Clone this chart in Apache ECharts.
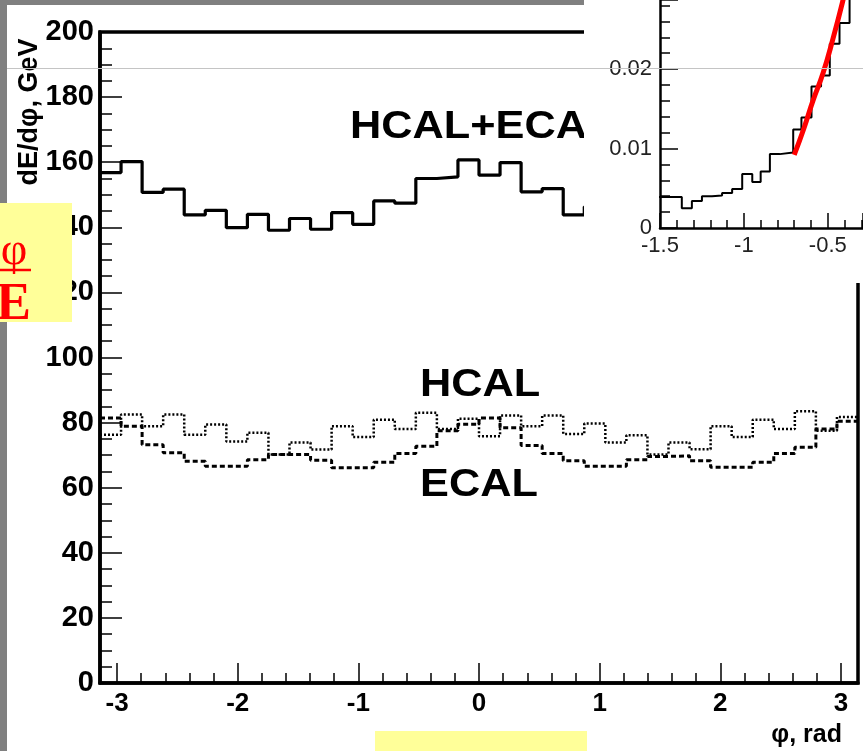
<!DOCTYPE html>
<html><head><meta charset="utf-8">
<script src="https://cdn.jsdelivr.net/npm/echarts@6/dist/echarts.min.js"></script>
<style>html,body{margin:0;padding:0;background:#fff}#c{width:863px;height:751px}</style>
</head><body><div id="c"></div>
<script>
// ---- main histogram data (36 bins over -pi..pi) ----
const phiBins = 36;
const hcalEcal = [156.8,160.2,150.7,151.7,143.8,145.2,139.9,144.0,139.1,142.7,139.4,144.5,140.9,148.1,147.4,155.0,155.5,160.7,
                  156.0,159.9,150.9,151.9,143.8,146.3,140.5,144.7,139.8,143.5,140.1,145.2,141.9,148.7,148.5,155.9,155.9,162.1];
const hcal = [76.3,82.5,78.9,82.5,76.3,79.4,74.2,76.9,70.2,73.9,71.7,78.9,75.6,80.9,78.0,83.0,78.0,81.2,
              75.8,82.2,78.9,82.2,76.5,79.7,73.9,76.1,70.2,73.9,71.8,78.9,75.6,80.9,78.0,83.5,77.5,81.7];
const ecal = [81.4,78.9,73.2,70.7,68.1,66.6,66.6,68.6,70.2,70.2,68.4,66.1,66.1,67.8,70.5,72.7,77.5,79.5,
              81.4,78.4,73.0,70.5,68.3,66.6,66.6,68.6,69.6,69.8,68.3,66.3,66.3,67.8,70.5,72.4,78.0,80.4];
const xTickLabels = [-3,-2,-1,0,1,2,3];
const seriesLabels = ['HCAL+ECAL','HCAL','ECAL'];

// ---- inset data ----
const insetEdges = [-1.57,-1.37,-1.31,-1.25,-1.19,-1.13,-1.07,-1.01,-0.95,-0.90,-0.845,-0.786,-0.706,-0.657,-0.597,-0.54,-0.488,-0.43,-0.37,-0.31,-0.25];
const insetValues = [0.0039,0.0025,0.0034,0.0040,0.0041,0.0044,0.0049,0.0068,0.0058,0.0071,0.0093,0.0095,0.0124,0.0139,0.0178,0.0192,0.0232,0.0258,0.031,0.036];
const fitX = [-0.70,-0.643,-0.587,-0.528,-0.468,-0.409,-0.35];
const fitY = [0.0092,0.0125,0.0161,0.0195,0.0239,0.0287,0.034];

const phiEdges = Array.from({length: phiBins + 1}, (_, k) => -Math.PI + k * 2 * Math.PI / phiBins);
function stepData(edges, vals) {
  const d = vals.map((v, i) => [edges[i], v]);
  d.push([edges[vals.length], vals[vals.length - 1]]);
  return d;
}
const minorX = [];
for (let t = -3.2; t <= 3.21; t += 0.2) { const r = Math.round(t * 10) / 10; if (Math.abs(r - Math.round(r)) > 1e-6 && r > -Math.PI && r < Math.PI) minorX.push(r); }

const FONT = 'Liberation Sans, Arial, sans-serif';
const chart = echarts.init(document.getElementById('c'), null, {renderer: 'canvas'});
const option = {
  animation: false,
  backgroundColor: '#fff',
  grid: [
    {left: 100, top: 32, right: 5, bottom: 68, show: true, borderColor: '#000', borderWidth: 3.5, backgroundColor: 'transparent'},
    {left: 660, top: 0, right: 0, height: 228}
  ],
  xAxis: [
    {type: 'value', gridIndex: 0, position: 'bottom', min: -Math.PI, max: Math.PI, z: 3,
     axisLine: {onZero: false, lineStyle: {color: '#000', width: 3.5}},
     axisTick: {inside: true, length: 20, lineStyle: {color: '#000', width: 1.5}, customValues: xTickLabels},
     axisLabel: {customValues: xTickLabels, color: '#000', fontFamily: FONT, fontWeight: 'bold', fontSize: 26, margin: 8},
     splitLine: {show: false}},
    {type: 'value', gridIndex: 0, position: 'top', offset: -651, min: -Math.PI, max: Math.PI, z: 3,
     axisLine: {show: false},
     axisTick: {inside: false, length: 10, lineStyle: {color: '#000', width: 1.5}, customValues: minorX},
     axisLabel: {show: false}, splitLine: {show: false}},
    {type: 'value', gridIndex: 1, position: 'bottom', min: -1.5, max: -0.29, interval: 0.5, z: 110,
     axisLine: {onZero: false, lineStyle: {color: '#000', width: 2.5}},
     axisTick: {inside: true, length: 15, lineStyle: {color: '#000', width: 1.5}},
     minorTick: {show: true, splitNumber: 5, length: 8, lineStyle: {color: '#000', width: 1.5}},
     axisLabel: {color: '#222', fontFamily: FONT, fontSize: 22, margin: 7, showMaxLabel: false},
     splitLine: {show: false}}
  ],
  yAxis: [
    {type: 'value', gridIndex: 0, position: 'left', min: 0, max: 200, interval: 20, z: 3,
     axisLine: {onZero: false, lineStyle: {color: '#000', width: 3.5}},
     axisTick: {inside: true, length: 22, lineStyle: {color: '#000', width: 1.5}},
     minorTick: {show: true, splitNumber: 4, length: 12, lineStyle: {color: '#000', width: 1.5}},
     axisLabel: {color: '#000', fontFamily: FONT, fontWeight: 'bold', fontSize: 29, margin: 6},
     splitLine: {show: false}},
    {type: 'value', gridIndex: 1, position: 'left', min: 0, max: 0.0287, interval: 0.01, z: 110,
     axisLine: {onZero: false, lineStyle: {color: '#000', width: 2.5}},
     axisTick: {inside: true, length: 18, lineStyle: {color: '#000', width: 1.5}},
     minorTick: {show: true, splitNumber: 5, length: 10, lineStyle: {color: '#000', width: 1.5}},
     axisLabel: {color: '#222', fontFamily: FONT, fontSize: 22, margin: 8, showMaxLabel: false},
     splitLine: {show: false}}
  ],
  series: [
    {name: seriesLabels[0], type: 'line', step: 'end', xAxisIndex: 0, yAxisIndex: 0, symbol: 'none', z: 4,
     data: stepData(phiEdges, hcalEcal), lineStyle: {color: '#000', width: 3.2}},
    {name: seriesLabels[1], type: 'line', step: 'end', xAxisIndex: 0, yAxisIndex: 0, symbol: 'none', z: 4,
     data: stepData(phiEdges, hcal), lineStyle: {color: '#000', width: 2.5, type: [2, 2]}},
    {name: seriesLabels[2], type: 'line', step: 'end', xAxisIndex: 0, yAxisIndex: 0, symbol: 'none', z: 4,
     data: stepData(phiEdges, ecal), lineStyle: {color: '#000', width: 3, type: [5, 3]}},
    {type: 'line', step: 'end', xAxisIndex: 2, yAxisIndex: 1, symbol: 'none', z: 111, clip: true,
     data: stepData(insetEdges, insetValues), lineStyle: {color: '#000', width: 2}},
    {type: 'line', xAxisIndex: 2, yAxisIndex: 1, symbol: 'none', z: 112, smooth: true, clip: true,
     data: fitX.map((x, i) => [x, fitY[i]]), lineStyle: {color: '#ff0000', width: 5}}
  ],
  graphic: [
    {type: 'text', z: 5, x: 350, y: 128, scaleX: 1.14, style: {text: seriesLabels[0], font: 'bold 38px ' + FONT, fill: '#000', textVerticalAlign: 'middle'}},
    {type: 'text', z: 5, x: 420, y: 386, scaleX: 1.14, style: {text: seriesLabels[1], font: 'bold 38px ' + FONT, fill: '#000', textVerticalAlign: 'middle'}},
    {type: 'text', z: 5, x: 420, y: 486, scaleX: 1.14, style: {text: seriesLabels[2], font: 'bold 38px ' + FONT, fill: '#000', textVerticalAlign: 'middle'}},
    {type: 'text', z: 5, x: 30, y: 112, rotation: Math.PI / 2, style: {text: 'dE/dφ, GeV', font: 'bold 27px ' + FONT, fill: '#000', textAlign: 'center', textVerticalAlign: 'middle'}},
    {type: 'text', z: 5, x: 842, y: 735, style: {text: 'φ, rad', font: 'bold 25px ' + FONT, fill: '#000', textAlign: 'right', textVerticalAlign: 'middle'}},
    {type: 'rect', z: 100, shape: {x: 584, y: 0, width: 279, height: 283}, style: {fill: '#fff'}},
    {type: 'rect', z: 150, shape: {x: 0, y: 0, width: 7, height: 751}, style: {fill: '#808080'}},
    {type: 'rect', z: 150, shape: {x: 0, y: 0, width: 584, height: 5}, style: {fill: '#808080'}},
    {type: 'line', z: 160, shape: {x1: 7, y1: 68.5, x2: 863, y2: 68.5}, style: {stroke: '#c4c4c4', lineWidth: 1}},
    {type: 'rect', z: 200, shape: {x: 0, y: 203, width: 72, height: 119}, style: {fill: '#ffff99'}},
    {type: 'text', z: 201, x: 14, y: 252, style: {text: 'φ', font: '46px Liberation Serif, serif', fill: '#ff0000', textAlign: 'center', textVerticalAlign: 'middle'}},
    {type: 'line', z: 201, shape: {x1: 0, y1: 270, x2: 31, y2: 270}, style: {stroke: '#ff0000', lineWidth: 2.5}},
    {type: 'text', z: 201, x: 31, y: 306, style: {text: 'E', font: 'bold 52px Liberation Serif, serif', fill: '#ff0000', textAlign: 'right', textVerticalAlign: 'middle'}},
    {type: 'rect', z: 200, shape: {x: 375, y: 731, width: 212, height: 20}, style: {fill: '#ffff99'}}
  ]
};
chart.setOption(option);
</script>
</body></html>
